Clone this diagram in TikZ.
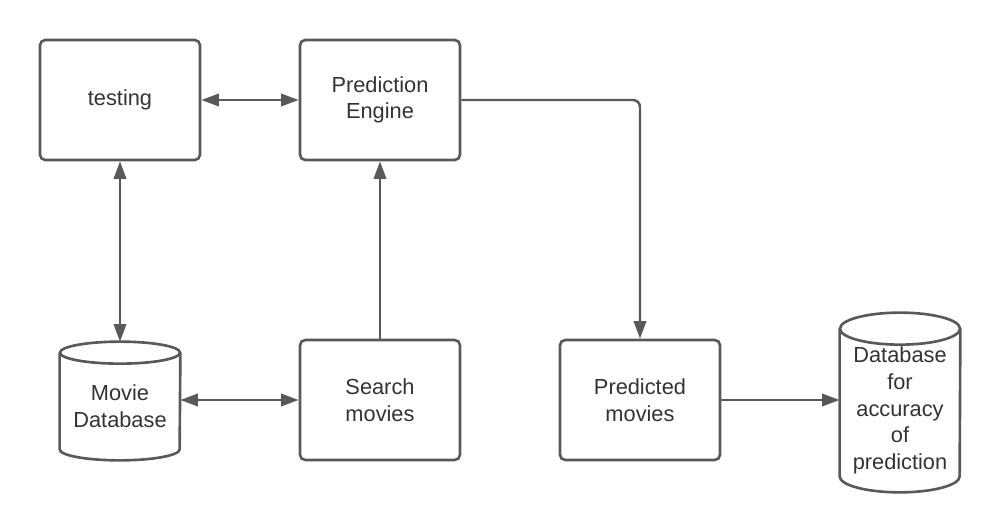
\documentclass[tikz,border=0pt]{standalone}
\usepackage{fontspec}
\setmainfont{Liberation Sans}
\usetikzlibrary{arrows.meta}
\definecolor{linegray}{HTML}{595959}
\definecolor{textgray}{HTML}{333333}
\begin{document}
\begin{tikzpicture}[
    box/.style={draw=linegray, line width=1.5pt, rounded corners=3pt, minimum width=3.2cm, minimum height=2.4cm, align=center, text=textgray, font=\fontsize{12.4}{15.2}\selectfont},
    dbtext/.style={align=center, text=textgray, inner sep=0pt, font=\fontsize{12.4}{15.2}\selectfont},
    cyl/.style={draw=linegray, line width=1.5pt},
    arr/.style={draw=linegray, line width=1.4pt, -{Triangle[length=10pt,width=7pt]}},
    biarr/.style={draw=linegray, line width=1.4pt, {Triangle[length=10pt,width=7pt]}-{Triangle[length=10pt,width=7pt]}}
    ]
    \useasboundingbox (0,0) rectangle (20,-10.6);
    \node at (2.4,-2) [box] (testing) {testing};
    \node at (7.6,-2) [box] (engine) {Prediction\\Engine};
    \node at (7.6,-8) [box] (search) {Search\\movies};
    \node at (12.8,-8) [box] (predicted) {Predicted\\movies};
    \node at (2.4,-8.13) [dbtext, minimum width=2.4cm, minimum height=2.14cm] (moviedb) {Movie\\Database};
    \node at (18,-8.21) [dbtext, minimum width=2.4cm, minimum height=3.26cm] (accdb) {Database\\for\\accuracy\\of\\prediction};
    \draw[cyl] (moviedb.north) ellipse (1.2cm and 0.22cm);
    \draw[cyl] (moviedb.north west) -- ([yshift=0.22cm]moviedb.south west) arc (180:360:1.2cm and 0.22cm) -- (moviedb.north east);
    \draw[cyl] (accdb.north) ellipse (1.2cm and 0.32cm);
    \draw[cyl] (accdb.north west) -- ([yshift=0.32cm]accdb.south west) arc (180:360:1.2cm and 0.32cm) -- (accdb.north east);
    \draw[biarr] (testing.east) -- (engine.west);
    \draw[biarr] (testing.south) -- ([yshift=0.22cm]moviedb.north);
    \draw[biarr] (search.west -| moviedb.east) -- (search.west);
    \draw[arr] (search.north) -- (engine.south);
    \draw[arr, rounded corners=4pt] (engine.east) -| (predicted.north);
    \draw[arr] (predicted.east) -- (predicted.east -| accdb.west);
\end{tikzpicture}
\end{document}
